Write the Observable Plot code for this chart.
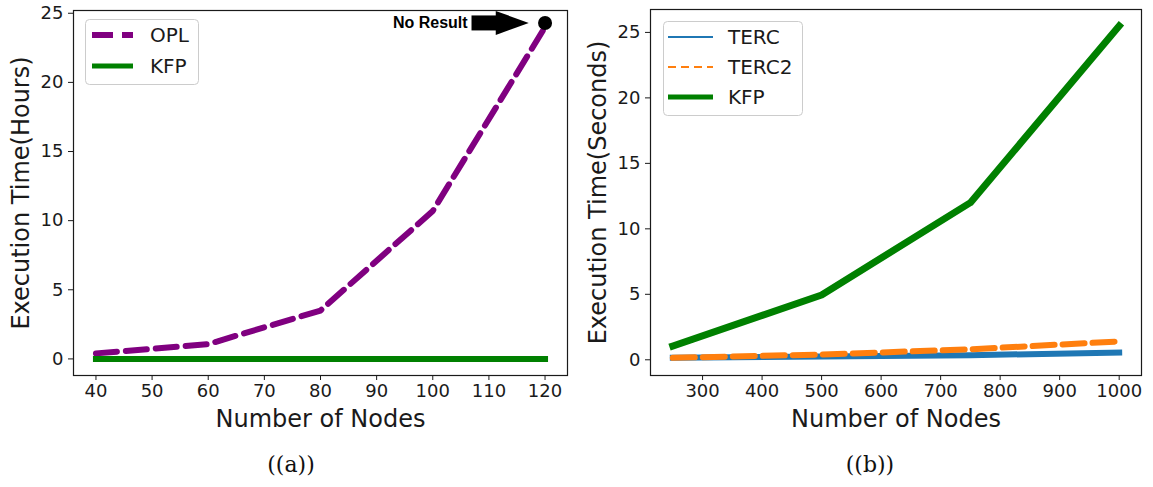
<!DOCTYPE html>
<html><head><meta charset="utf-8">
<script src="https://cdn.jsdelivr.net/npm/d3@7"></script>
<script src="https://cdn.jsdelivr.net/npm/@observablehq/plot@0.6"></script>
<style>
html,body{margin:0;padding:0;background:#fff;width:1153px;height:487px;overflow:hidden;font-family:"DejaVu Sans",sans-serif;}
#wrap{position:relative;width:1153px;height:487px;}
.panel{position:absolute;top:0;}
.cap{position:absolute;top:452px;font-family:"DejaVu Serif","Liberation Serif",serif;font-size:22px;line-height:26px;color:#111;transform:translateX(-50%);white-space:nowrap;}
.legend{position:absolute;top:0;left:0;pointer-events:none;overflow:visible;}
</style></head><body><div id="wrap"></div>
<script>
// ---- data (panel a) ----
const leftNodes = [40, 60, 80, 100, 120];
const oplHours = [0.4, 1.07, 3.5, 10.7, 24.0];
const kfpHours = [0, 0, 0, 0, 0];
const leftXTicks = [40, 50, 60, 70, 80, 90, 100, 110, 120];
const leftYTicks = [0, 5, 10, 15, 20, 25];
const noResult = [{label: "No Result", textX: 106.2, tailX: 106.9, headX: 111.8, tipX: 117.1, dotX: 120, y: 24.3}];
// ---- data (panel b) ----
const rightNodes = [250, 500, 750, 1000];
const tercSec = [0.15, 0.25, 0.35, 0.55];
const terc2Sec = [0.15, 0.4, 0.8, 1.4];
const kfpSec = [1.05, 4.95, 12.0, 25.5];
const rightXTicks = [300, 400, 500, 600, 700, 800, 900, 1000];
const rightYTicks = [0, 5, 10, 15, 20, 25];

const ink = "#1a1a1a";
const rows = (xs, ys) => xs.map((n, i) => ({n, v: ys[i]}));
const arrowHead = {draw(ctx) { ctx.moveTo(0, 0); ctx.lineTo(-33, -12); ctx.lineTo(-33, 12); ctx.closePath(); }};
const baseStyle = {fontFamily: "DejaVu Sans", fontSize: "18px", color: ink, background: "transparent", overflow: "visible"};

const left = Plot.plot({
  width: 577, height: 440, marginTop: 10, marginBottom: 65, marginLeft: 73, marginRight: 10,
  style: baseStyle,
  x: {domain: [36, 124]},
  y: {domain: [-1.2, 25.2]},
  marks: [
    Plot.axisX({ticks: leftXTicks, tickSize: 5, tickPadding: 4, label: null, tickFormat: d => String(d), fill: ink}),
    Plot.axisY({ticks: leftYTicks, tickSize: 5, tickPadding: 5, label: null, tickFormat: d => String(d), fill: ink}),
    Plot.frame({stroke: ink, strokeWidth: 1.2}),
    Plot.line(rows(leftNodes, oplHours), {x: "n", y: "v", stroke: "#800080", strokeWidth: 6, strokeDasharray: "21,9"}),
    Plot.line(rows(leftNodes, kfpHours), {x: "n", y: "v", stroke: "#008000", strokeWidth: 6, strokeLinecap: "square"}),
    Plot.text(noResult, {x: "textX", y: "y", text: "label", textAnchor: "end", fontWeight: "bold", fontFamily: "Liberation Sans", fontSize: 16, fill: "#000"}),
    Plot.link(noResult, {x1: "tailX", x2: "headX", y1: "y", y2: "y", stroke: "#000", strokeWidth: 15}),
    Plot.dot(noResult, {x: "tipX", y: "y", symbol: arrowHead, fill: "#000", r: 5}),
    Plot.dot(noResult, {x: "dotX", y: "y", r: 7, fill: "#000"}),
    Plot.text(["Number of Nodes"], {frameAnchor: "bottom", dy: 44, text: d => d, fontSize: 24, fill: ink, textAnchor: "middle", lineAnchor: "middle"}),
    Plot.text(["Execution Time(Hours)"], {frameAnchor: "left", dx: -52, rotate: -90, text: d => d, fontSize: 24, fill: ink, textAnchor: "middle", lineAnchor: "middle"})
  ]
});

const right = Plot.plot({
  width: 576, height: 440, marginTop: 9, marginBottom: 65, marginLeft: 73, marginRight: 12,
  style: baseStyle,
  x: {domain: [212.5, 1037.5]},
  y: {domain: [-1.2, 26.75]},
  marks: [
    Plot.axisX({ticks: rightXTicks, tickSize: 5, tickPadding: 4, label: null, tickFormat: d => String(d), fill: ink}),
    Plot.axisY({ticks: rightYTicks, tickSize: 5, tickPadding: 5, label: null, tickFormat: d => String(d), fill: ink}),
    Plot.frame({stroke: ink, strokeWidth: 1.2}),
    Plot.line(rows(rightNodes, tercSec), {x: "n", y: "v", stroke: "#1f77b4", strokeWidth: 6, strokeLinecap: "square"}),
    Plot.line(rows(rightNodes, terc2Sec), {x: "n", y: "v", stroke: "#ff7f0e", strokeWidth: 6, strokeDasharray: "22,8"}),
    Plot.line(rows(rightNodes, kfpSec), {x: "n", y: "v", stroke: "#008000", strokeWidth: 7, strokeLinecap: "square"}),
    Plot.text(["Number of Nodes"], {frameAnchor: "bottom", dy: 44, text: d => d, fontSize: 24, fill: ink, textAnchor: "middle", lineAnchor: "middle"}),
    Plot.text(["Execution Time(Seconds)"], {frameAnchor: "left", dx: -52, rotate: -90, text: d => d, fontSize: 24, fill: ink, textAnchor: "middle", lineAnchor: "middle"})
  ]
});

const wrap = document.getElementById("wrap");
left.classList.add("panel"); left.style.left = "0px";
right.classList.add("panel"); right.style.left = "577px";
wrap.appendChild(left);
wrap.appendChild(right);

// legends (overlay)
const NS = "http://www.w3.org/2000/svg";
function legend(box, items) {
  const svg = document.createElementNS(NS, "svg");
  svg.setAttribute("class", "legend");
  svg.setAttribute("width", 1153); svg.setAttribute("height", 487);
  const r = document.createElementNS(NS, "rect");
  Object.entries({x: box.x + 0.5, y: box.y + 0.5, width: box.w, height: box.h, rx: 4, fill: "#fff", "fill-opacity": 0.8, stroke: "#cccccc"}).forEach(([k, v]) => r.setAttribute(k, v));
  svg.appendChild(r);
  items.forEach(it => {
    const l = document.createElementNS(NS, "line");
    Object.entries({x1: box.lx1, x2: box.lx2, y1: it.y, y2: it.y, stroke: it.color, "stroke-width": it.w}).forEach(([k, v]) => l.setAttribute(k, v));
    if (it.dash) l.setAttribute("stroke-dasharray", it.dash);
    svg.appendChild(l);
    const t = document.createElementNS(NS, "text");
    Object.entries({x: box.tx, y: it.y, "dominant-baseline": "central", "font-family": "DejaVu Sans", "font-size": 20, fill: ink}).forEach(([k, v]) => t.setAttribute(k, v));
    t.textContent = it.label;
    svg.appendChild(t);
  });
  wrap.appendChild(svg);
}
legend({x: 85, y: 19, w: 113, h: 65, lx1: 92, lx2: 133, tx: 150}, [
  {label: "OPL", y: 35, color: "#800080", w: 6, dash: "21,9"},
  {label: "KFP", y: 66, color: "#008000", w: 5}
]);
legend({x: 663, y: 21, w: 139, h: 94, lx1: 668, lx2: 713, tx: 728}, [
  {label: "TERC", y: 37, color: "#1f77b4", w: 2},
  {label: "TERC2", y: 67, color: "#ff7f0e", w: 2, dash: "8,5"},
  {label: "KFP", y: 97, color: "#008000", w: 5}
]);

// captions
[["((a))", 291], ["((b))", 870]].forEach(([txt, cx]) => {
  const d = document.createElement("div");
  d.className = "cap"; d.style.left = cx + "px"; d.textContent = txt;
  wrap.appendChild(d);
});
</script></body></html>
